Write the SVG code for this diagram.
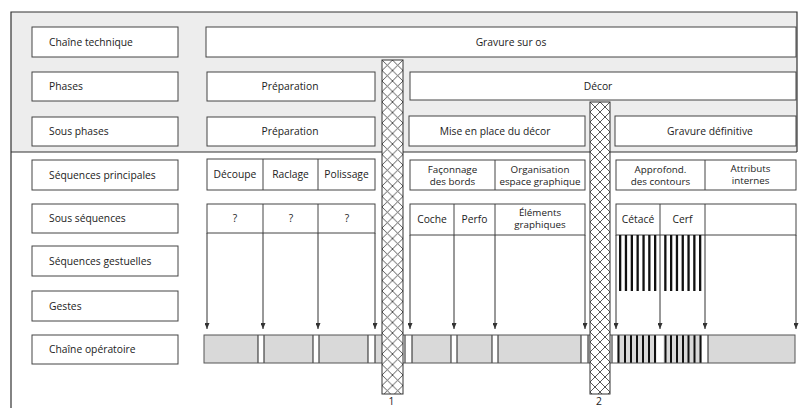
<svg xmlns="http://www.w3.org/2000/svg" width="803" height="408" viewBox="0 0 803 408">
<defs>
<style>
.box{fill:#fff;stroke:#444;stroke-width:1}
.ln{stroke:#444;stroke-width:1;fill:none}
.t{font-family:"Open Sans","Noto Sans",sans-serif;font-size:10.3px;fill:#222}
.c{text-anchor:middle}
.s{font-size:9.8px}
.arr{stroke:#333;stroke-width:1;fill:none;marker-end:url(#ah)}
.gray{fill:#d9d9d9}
.wh{fill:#fff}
.dv{stroke:#333;stroke-width:1.1}
.st{fill:#111}
.bar{stroke:#555;stroke-width:1}
</style>
<marker id="ah" viewBox="0 0 12 10" refX="12" refY="5" markerWidth="6" markerHeight="5" orient="auto" markerUnits="userSpaceOnUse">
<path d="M0,0 L12,5 L0,10 z" fill="#333"/>
</marker>
<pattern id="h1" patternUnits="userSpaceOnUse" x="382" y="60" width="10.5" height="10.5">
<rect width="10.5" height="10.5" fill="#fff"/>
<path d="M0,0L10.5,10.5M10.5,0L0,10.5" stroke="#444" stroke-width="0.9"/>
</pattern>
<pattern id="h2" patternUnits="userSpaceOnUse" x="590" y="102" width="10" height="10">
<rect width="10" height="10" fill="#fff"/>
<path d="M0,0L10,10M10,0L0,10" stroke="#444" stroke-width="0.9"/>
</pattern>
</defs>
<rect width="803" height="408" fill="#fff"/>

<g id="frame">
<rect x="11" y="12" width="786" height="140" fill="#ededed"/>
<path d="M11,408 V12 H797 V152 M11,152 H797" stroke="#333" stroke-width="1.2" fill="none"/>
</g>

<g id="labels">
<g id="lab-chaine-technique"><rect class="box" x="32" y="27" width="146" height="30"/><text class="t" x="49" y="45.7">Chaîne technique</text></g>
<g id="lab-phases"><rect class="box" x="32" y="72" width="146" height="29"/><text class="t" x="49" y="90.2">Phases</text></g>
<g id="lab-sous-phases"><rect class="box" x="32" y="117" width="146" height="29"/><text class="t" x="49" y="135.2">Sous phases</text></g>
<g id="lab-seq-princ"><rect class="box" x="32" y="160" width="146" height="30"/><text class="t" x="49" y="178.7">Séquences principales</text></g>
<g id="lab-sous-seq"><rect class="box" x="32" y="204" width="146" height="29"/><text class="t" x="49" y="222.2">Sous séquences</text></g>
<g id="lab-seq-gest"><rect class="box" x="32" y="246" width="146" height="30"/><text class="t" x="49" y="264.7">Séquences gestuelles</text></g>
<g id="lab-gestes"><rect class="box" x="32" y="291" width="146" height="30"/><text class="t" x="49" y="309.7">Gestes</text></g>
<g id="lab-chaine-op"><rect class="box" x="32" y="335" width="146" height="29"/><text class="t" x="49" y="353.2">Chaîne opératoire</text></g>
</g>

<g id="gravure-sur-os"><rect class="box" x="206" y="27" width="590" height="30"/><text class="t c" x="511" y="45.7">Gravure sur os</text></g>
<g id="phase-preparation"><rect class="box" x="207" y="72" width="168" height="29"/><text class="t c" x="290" y="90.2">Préparation</text></g>
<g id="phase-decor"><rect class="box" x="410" y="72" width="386" height="28"/><text class="t c" x="598" y="89.7">Décor</text></g>
<g id="sp-preparation"><rect class="box" x="207" y="117" width="168" height="29"/><text class="t c" x="290" y="135.2">Préparation</text></g>
<g id="sp-mise-en-place"><rect class="box" x="409" y="116" width="176" height="30"/><text class="t c" x="495" y="134.7">Mise en place du décor</text></g>
<g id="sp-gravure-def"><rect class="box" x="615" y="116" width="181" height="30"/><text class="t c" x="710" y="134.7">Gravure définitive</text></g>

<g id="seq-preparation">
<rect class="box" x="207" y="159" width="168" height="31"/>
<path class="ln" d="M263,159V190M318,159V190"/>
<text class="t c" x="235" y="178.2">Découpe</text>
<text class="t c" x="290.5" y="178.2">Raclage</text>
<text class="t c" x="346.5" y="178.2">Polissage</text>
</g>
<g id="seq-mise-en-place">
<rect class="box" x="410" y="160" width="175" height="30"/>
<path class="ln" d="M495,160V190"/>
<text class="t c s" x="452.5" y="172.5">Façonnage</text>
<text class="t c s" x="452.5" y="184.5">des bords</text>
<text class="t c s" x="540" y="172.5">Organisation</text>
<text class="t c s" x="540" y="184.5">espace graphique</text>
</g>
<g id="seq-gravure">
<rect class="box" x="616" y="160" width="180" height="30"/>
<path class="ln" d="M705,160V190"/>
<text class="t c s" x="660.5" y="172.5">Approfond.</text>
<text class="t c s" x="660.5" y="184.5">des contours</text>
<text class="t c s" x="750.5" y="171.5">Attributs</text>
<text class="t c s" x="750.5" y="183.5">internes</text>
</g>

<g id="ss-preparation">
<rect class="box" x="207" y="204" width="168" height="29"/>
<path class="ln" d="M263,204V233M318,204V233"/>
<text class="t c" x="235" y="222.2">?</text>
<text class="t c" x="291" y="222.2">?</text>
<text class="t c" x="347" y="222.2">?</text>
</g>
<g id="ss-mise-en-place">
<rect class="box" x="410" y="204" width="175" height="31"/>
<path class="ln" d="M454,204V235M495,204V235"/>
<text class="t c" x="432" y="223">Coche</text>
<text class="t c" x="474.5" y="223">Perfo</text>
<text class="t c s" x="540" y="215.5">Éléments</text>
<text class="t c s" x="540" y="227.5">graphiques</text>
</g>
<g id="ss-gravure">
<rect class="box" x="616" y="204" width="180" height="31"/>
<path class="ln" d="M660,204V235M705,204V235"/>
<text class="t c" x="638" y="223">Cétacé</text>
<text class="t c" x="682.5" y="223">Cerf</text>
</g>

<g id="stripes-gestuelles">
<rect class="st" x="619" y="235" width="2.3" height="56"/>
<rect class="st" x="624.8" y="235" width="2.3" height="56"/>
<rect class="st" x="630.7" y="235" width="2.3" height="56"/>
<rect class="st" x="636.5" y="235" width="2.3" height="56"/>
<rect class="st" x="642.4" y="235" width="2.3" height="56"/>
<rect class="st" x="648.2" y="235" width="2.3" height="56"/>
<rect class="st" x="654" y="235" width="2.3" height="56"/>
<rect class="st" x="664.2" y="235" width="2.3" height="56"/>
<rect class="st" x="670" y="235" width="2.3" height="56"/>
<rect class="st" x="675.8" y="235" width="2.3" height="56"/>
<rect class="st" x="681.6" y="235" width="2.3" height="56"/>
<rect class="st" x="687.4" y="235" width="2.3" height="56"/>
<rect class="st" x="693.2" y="235" width="2.3" height="56"/>
<rect class="st" x="699" y="235" width="2.3" height="56"/>
</g>

<g id="connectors">
<path class="arr" d="M207,233V329"/>
<path class="arr" d="M263,233V329"/>
<path class="arr" d="M318,233V329"/>
<path class="arr" d="M375,233V329"/>
<path class="arr" d="M410,235V329"/>
<path class="arr" d="M454,235V329"/>
<path class="arr" d="M495,235V329"/>
<path class="arr" d="M585,235V329"/>
<path class="arr" d="M616,235V329"/>
<path class="arr" d="M660,235V329"/>
<path class="arr" d="M705,235V329"/>
<path class="arr" d="M796,235V329"/>
</g>

<g id="chaine-operatoire-bar">
<rect class="gray" x="204" y="335" width="591" height="28"/>
<rect class="wh" x="258" y="335" width="6" height="28"/>
<rect class="wh" x="313" y="335" width="6" height="28"/>
<rect class="wh" x="368" y="335" width="7" height="28"/>
<rect class="wh" x="403" y="335" width="9" height="28"/>
<rect class="wh" x="451" y="335" width="6" height="28"/>
<rect class="wh" x="492" y="335" width="6" height="28"/>
<rect class="wh" x="581" y="335" width="7" height="28"/>
<rect class="wh" x="610" y="335" width="7" height="28"/>
<rect class="wh" x="656.5" y="335" width="7" height="28"/>
<rect class="wh" x="702" y="335" width="6" height="28"/>
<path class="dv" d="M258,335V363M264,335V363M313,335V363M319,335V363M368,335V363M375,335V363M405,335V363M412,335V363M451,335V363M457,335V363M492,335V363M498,335V363M581,335V363M588,335V363M612,335V363M708,335V363"/>
<rect class="st" x="617.5" y="335" width="2" height="28"/>
<rect class="st" x="624" y="335" width="2" height="28"/>
<rect class="st" x="630" y="335" width="2" height="28"/>
<rect class="st" x="636" y="335" width="2" height="28"/>
<rect class="st" x="642" y="335" width="2" height="28"/>
<rect class="st" x="648" y="335" width="2" height="28"/>
<rect class="st" x="654" y="335" width="2" height="28"/>
<rect class="st" x="664.5" y="335" width="2" height="28"/>
<rect class="st" x="670" y="335" width="2" height="28"/>
<rect class="st" x="676" y="335" width="2" height="28"/>
<rect class="st" x="682" y="335" width="2" height="28"/>
<rect class="st" x="687.5" y="335" width="2" height="28"/>
<rect class="st" x="693.5" y="335" width="2" height="28"/>
<rect class="st" x="699.5" y="335" width="2" height="28"/>
<rect class="bar" x="204" y="335" width="591" height="28" fill="none"/>
</g>

<g id="break-1">
<rect x="382" y="60" width="21" height="334" fill="url(#h1)" stroke="#333" stroke-width="1"/>
<text class="t c" x="391.5" y="405">1</text>
</g>
<g id="break-2">
<rect x="590" y="102" width="20" height="292" fill="url(#h2)" stroke="#333" stroke-width="1"/>
<text class="t c" x="599" y="405">2</text>
</g>
</svg>
